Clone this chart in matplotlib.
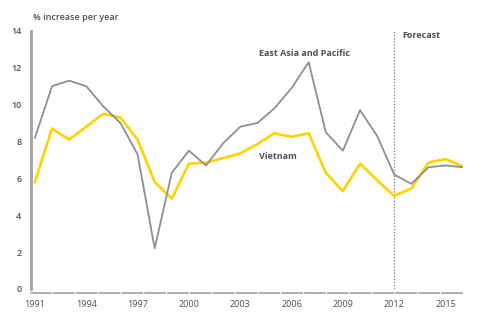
import matplotlib
matplotlib.use('Agg')
import matplotlib.pyplot as plt

plt.rcParams['font.family'] = ['Open Sans', 'DejaVu Sans']

# 数据
years = list(range(1991, 2017))
east_asia = [8.2, 11.0, 11.3, 11.0, 9.9, 9.0, 7.3, 2.2, 6.3, 7.5, 6.7, 7.9, 8.8, 9.0,
             9.8, 10.9, 12.3, 8.5, 7.5, 9.7, 8.3, 6.2, 5.7, 6.6, 6.7, 6.6]
vietnam = [5.8, 8.7, 8.1, 8.8, 9.5, 9.3, 8.1, 5.8, 4.9, 6.8, 6.85, 7.1, 7.35, 7.85,
           8.45, 8.25, 8.45, 6.3, 5.3, 6.8, 5.9, 5.05, 5.45, 6.85, 7.05, 6.65]
xticks = [1991, 1994, 1997, 2000, 2003, 2006, 2009, 2012, 2015]
yticks = [0, 2, 4, 6, 8, 10, 12, 14]
forecast_year = 2012

label_color = '#4e4e5e'

fig = plt.figure(figsize=(5, 3.12), dpi=100)
ax = fig.add_axes([0.062, 0.074, 0.864, 0.827])

ax.plot(years, east_asia, color='#8f8f8f', lw=1.3, zorder=3)
ax.plot(years, vietnam, color='#ffd200', lw=1.9, zorder=2)

ax.axvline(forecast_year, color='#777777', lw=0.9, ls=(0, (1, 1.5)), zorder=1)

ax.set_xlim(1990.77, 2016.02)
ax.set_ylim(0, 14)
ax.set_xticks(xticks)
ax.set_yticks(yticks)
ax.tick_params(length=0, labelsize=6.5, labelcolor=label_color, pad=5)
ax.tick_params(axis='y', pad=7)
for t in ax.get_xticklabels() + ax.get_yticklabels():
    t.set_fontweight('semibold')

for s in ['top', 'right']:
    ax.spines[s].set_visible(False)
ax.spines['left'].set_color('#a0a0a0')
ax.spines['left'].set_linewidth(2)
ax.spines['bottom'].set_color('#a0a0a0')
ax.spines['bottom'].set_linewidth(1.2)
ax.spines['bottom'].set_linestyle((0, (12, 1.7)))
ax.spines['bottom'].set_position(('outward', 3))

ax.text(0.004, 1.052, '% increase per year', transform=ax.transAxes, fontsize=6.5,
        color=label_color, fontweight='semibold', va='center', ha='left')
ax.text(2012.45, 13.75, 'Forecast', fontsize=6.5, color=label_color,
        fontweight='bold', va='center', ha='left')
ax.text(2004.1, 12.8, 'East Asia and Pacific', fontsize=6.5, color=label_color,
        fontweight='bold', va='center', ha='left')
ax.text(2004.1, 7.2, 'Vietnam', fontsize=6.5, color=label_color,
        fontweight='bold', va='center', ha='left')

fig.savefig('out.png', dpi=100)
